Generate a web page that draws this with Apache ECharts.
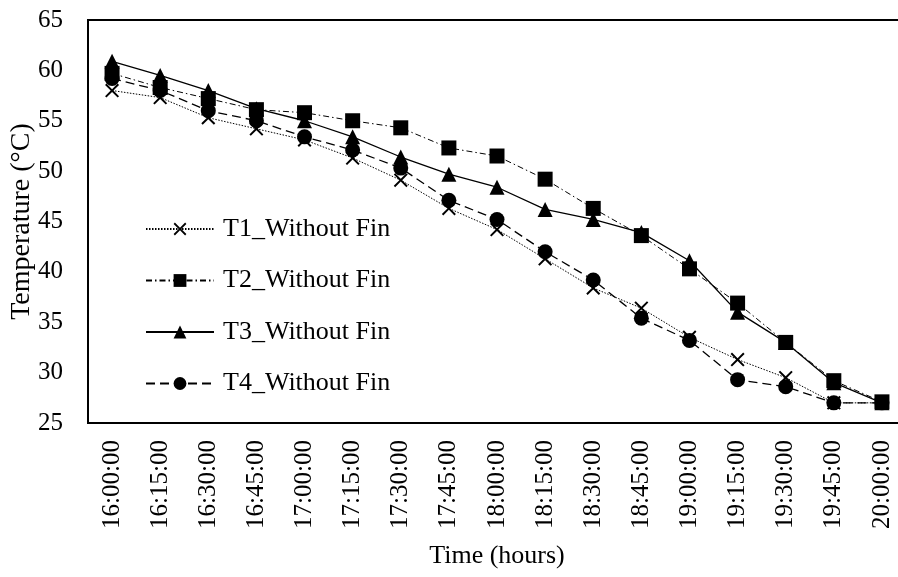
<!DOCTYPE html>
<html>
<head>
<meta charset="utf-8">
<script src="https://cdn.jsdelivr.net/npm/echarts@6/dist/echarts.min.js"></script>
<style>
  html, body { margin: 0; padding: 0; background: #fff; }
  #chart { width: 898px; height: 577px; }
</style>
</head>
<body>
<div id="chart"></div>
<script>
// Time stamps of the readings
const times = ['16:00:00','16:15:00','16:30:00','16:45:00','17:00:00','17:15:00','17:30:00','17:45:00',
  '18:00:00','18:15:00','18:30:00','18:45:00','19:00:00','19:15:00','19:30:00','19:45:00','20:00:00'];

// Temperatures (°C) at the four measuring points
const t1 = [58.0, 57.3, 55.3, 54.2, 53.1, 51.3, 49.1, 46.3, 44.2, 41.3, 38.4, 36.4, 33.5, 31.3, 29.5, 27.0, 27.0];
const t2 = [59.7, 58.3, 57.2, 56.1, 55.8, 55.0, 54.3, 52.3, 51.5, 49.2, 46.3, 43.6, 40.3, 36.9, 33.0, 29.2, 27.1];
const t3 = [60.9, 59.5, 58.0, 56.2, 55.0, 53.4, 51.4, 49.7, 48.4, 46.2, 45.2, 43.9, 41.1, 36.0, 33.0, 29.0, 27.0];
const t4 = [59.2, 58.0, 56.0, 55.0, 53.4, 52.1, 50.3, 47.1, 45.2, 42.0, 39.2, 35.4, 33.2, 29.3, 28.6, 27.0, 27.0];

const yTicks = { min: 25, max: 65, step: 5 };

const seriesNames = ['T1_Without Fin', 'T2_Without Fin', 'T3_Without Fin', 'T4_Without Fin'];

const FONT = 'Liberation Serif, Times New Roman, serif';
const crossSymbol = 'path://M0,1 L1,0 L5,4 L9,0 L10,1 L6,5 L10,9 L9,10 L5,6 L1,10 L0,9 L4,5 Z';

function makeSeries(name, data, symbol, size, lineType, width) {
  return {
    name: name,
    type: 'line',
    data: data,
    symbol: symbol,
    symbolSize: size,
    showAllSymbol: true,
    itemStyle: { color: '#000' },
    lineStyle: { color: '#000', width: width, type: lineType },
    emphasis: { disabled: true },
    animation: false
  };
}

const chart = echarts.init(document.getElementById('chart'), null, { renderer: 'canvas' });
chart.setOption({
  backgroundColor: '#fff',
  grid: {
    left: 88, top: 20, right: -8, bottom: 154,
    show: true, borderColor: '#000', borderWidth: 2,
    containLabel: false, outerBoundsMode: 'none'
  },
  legend: {
    orient: 'vertical',
    left: 145, top: 216,
    padding: 0,
    itemWidth: 68, itemHeight: 16,
    itemGap: 25.5,
    data: seriesNames,
    textStyle: { fontFamily: FONT, fontSize: 26, lineHeight: 26, color: '#000', padding: [0, 0, 0, 4] },
    inactiveColor: '#000'
  },
  xAxis: {
    type: 'category',
    data: times,
    boundaryGap: true,
    name: 'Time (hours)',
    nameLocation: 'middle',
    nameGap: 120,
    nameMoveOverlap: false,
    nameTextStyle: { fontFamily: FONT, fontSize: 26, color: '#000' },
    axisLine: { show: true, lineStyle: { color: '#000', width: 2 } },
    axisTick: { show: false },
    axisLabel: { rotate: 90, margin: 17, interval: 0, fontFamily: FONT, fontSize: 25, color: '#000' },
    splitLine: { show: false }
  },
  yAxis: {
    type: 'value',
    min: yTicks.min, max: yTicks.max, interval: yTicks.step,
    name: 'Temperature (°C)',
    nameLocation: 'middle',
    nameGap: 52,
    nameMoveOverlap: false,
    nameTextStyle: { fontFamily: FONT, fontSize: 28, color: '#000' },
    axisLine: { show: true, lineStyle: { color: '#000', width: 2 } },
    axisTick: { show: false },
    axisLabel: { margin: 25, fontFamily: FONT, fontSize: 25, color: '#000' },
    splitLine: { show: false }
  },
  series: [
    makeSeries(seriesNames[0], t1, crossSymbol, 14, [1.5, 1.5], 1),
    makeSeries(seriesNames[1], t2, 'rect', 15, [6, 3, 1.5, 3], 1),
    makeSeries(seriesNames[2], t3, 'triangle', 15, 'solid', 1.3),
    makeSeries(seriesNames[3], t4, 'circle', 15, [9, 5], 1.3)
  ]
});
</script>
</body>
</html>
